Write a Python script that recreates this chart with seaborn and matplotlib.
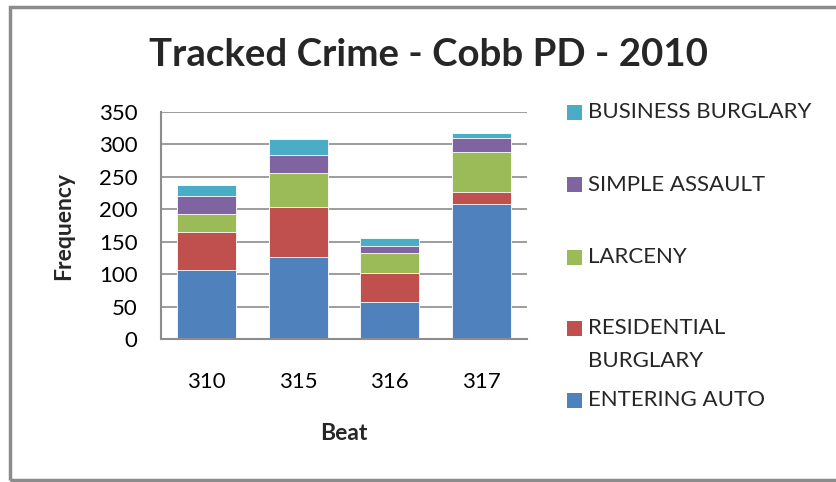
import numpy as np
import pandas as pd
import seaborn as sns
import matplotlib.pyplot as plt
from matplotlib.patches import Rectangle

beats = ["310", "315", "316", "317"]
crimes = ["ENTERING AUTO", "RESIDENTIAL BURGLARY", "LARCENY", "SIMPLE ASSAULT", "BUSINESS BURGLARY"]
entering_auto = [107, 126, 57, 208]
residential_burglary = [58, 77, 45, 18]
larceny = [28, 53, 30, 62]
simple_assault = [28, 28, 11, 22]
business_burglary = [17, 25, 13, 8]
colors = ["#4F81BD", "#C0504D", "#9BBB59", "#8064A2", "#4BACC6"]

series = [entering_auto, residential_burglary, larceny, simple_assault, business_burglary]
df = pd.DataFrame({"Beat": beats})
for name, vals in zip(crimes, series):
    df[name] = vals
# cumulative totals so each layer can be drawn over the one above it
cum = df[crimes].cumsum(axis=1)

sns.set_style("white")
plt.rcParams["font.family"] = ["Lato", "DejaVu Sans"]

fig = plt.figure(figsize=(8.36, 4.82), dpi=100)
ax = fig.add_axes([0.1926, 0.2967, 0.4378, 0.4709])

for name, color in reversed(list(zip(crimes, colors))):
    sns.barplot(x=df["Beat"], y=cum[name], color=color, saturation=1,
                width=0.645, ax=ax, edgecolor="white", linewidth=0.6)

ax.set_ylim(0, 350)
ax.set_yticks(np.arange(0, 351, 50))
ax.yaxis.grid(True, color="#8c8c8c", linewidth=1.2)
ax.set_axisbelow(True)
for side in ["top", "right"]:
    ax.spines[side].set_visible(False)
for side in ["left", "bottom"]:
    ax.spines[side].set_color("#8c8c8c")
    ax.spines[side].set_linewidth(1.5)
ax.tick_params(axis="both", labelsize=16, length=0, colors="black")
ax.tick_params(axis="y", pad=17)
ax.tick_params(axis="x", pad=24)
ax.set_xlabel("Beat", fontsize=16.5, fontweight="bold", labelpad=22)
ax.set_ylabel("Frequency", fontsize=16.5, fontweight="bold", labelpad=18)

fig.text(0.512, 0.886, "Tracked Crime - Cobb PD - 2010", fontsize=27.6,
         fontweight="bold", ha="center", va="center")

# legend, drawn by hand to follow the Excel layout
legend_rows = [("BUSINESS BURGLARY", 112), ("SIMPLE ASSAULT", 185), ("LARCENY", 257),
               ("RESIDENTIAL\nBURGLARY", 328), ("ENTERING AUTO", 400)]
for (label, ypx), color in zip(legend_rows, colors[::-1]):
    y = 1 - ypx / 482
    fig.patches.append(Rectangle((567 / 836, y - 7.5 / 482), 15 / 836, 15 / 482,
                                 transform=fig.transFigure, facecolor=color, edgecolor="none"))
    first, *rest = label.split("\n")
    fig.text(588 / 836, y, first, fontsize=16, va="center", ha="left")
    if rest:
        fig.text(588 / 836, 1 - (ypx + 33) / 482, rest[0], fontsize=16, va="center", ha="left")

# gray chart border
fig.patches.append(Rectangle((10 / 836, 2 / 482), 840 / 836, 473 / 482, transform=fig.transFigure,
                             facecolor="none", edgecolor="#8c8c8c", linewidth=2.5))

fig.savefig("out.png", dpi=100)
